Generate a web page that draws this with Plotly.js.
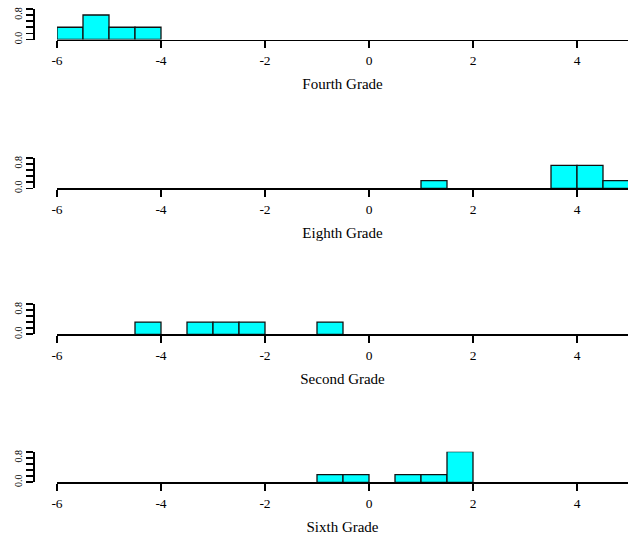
<!DOCTYPE html>
<html><head><meta charset="utf-8">
<script src="https://cdn.plot.ly/plotly-3.0.1.min.js"></script>
<style>html,body{margin:0;padding:0;background:#fff}#chart{width:628px;height:537px}</style>
</head><body><div id="chart"></div>
<script>
// ---- data ----
const panelTitles = ['Fourth Grade', 'Eighth Grade', 'Second Grade', 'Sixth Grade'];
const fourthBinStarts = [-6, -5.5, -5, -4.5];
const fourthCounts    = [1, 2, 1, 1];
const eighthBinStarts = [1, 3.5, 4, 4.5];
const eighthCounts    = [1, 3, 3, 1];
const secondBinStarts = [-4.5, -3.5, -3, -2.5, -1];
const secondCounts    = [1, 1, 1, 1, 1];
const sixthBinStarts  = [-1, -0.5, 0.5, 1, 1.5];
const sixthCounts     = [1, 1, 1, 1, 4];
const binWidth = 0.5;
const xTickVals = [-6, -4, -2, 0, 2, 4];
const xTickText = ['-6', '-4', '-2', '0', '2', '4'];
const yTickVals = [0, 0.2, 0.4, 0.6, 0.8, 1.0];
const yTickText = ['0.0', '', '', '', '0.8', ''];

const panels = [
  [fourthBinStarts, fourthCounts],
  [eighthBinStarts, eighthCounts],
  [secondBinStarts, secondCounts],
  [sixthBinStarts, sixthCounts]
];

// ---- layout geometry (pixels) ----
const W = 628, H = 537;
const baselines = [39.5, 188.3, 334.3, 482.3];
const panelH = 30.6;
const xLeftPx = 57, yAxisPx = 33;
const serif = 'Liberation Serif, Times New Roman, serif';

const traces = [];
const layout = {
  width: W, height: H,
  margin: {l: 0, r: 0, t: 0, b: 0},
  paper_bgcolor: '#fff', plot_bgcolor: 'rgba(0,0,0,0)',
  showlegend: false,
  font: {family: serif, color: '#000'}
};

panels.forEach(([starts, counts], i) => {
  const n = counts.reduce((a, b) => a + b, 0);
  const sfx = i === 0 ? '' : String(i + 1);
  traces.push({
    type: 'bar',
    x: starts.map(s => s + binWidth / 2),
    y: counts.map(c => c / (n * binWidth)),
    width: starts.map(() => binWidth),
    marker: {color: '#00FFFF', line: {color: '#111', width: 1.3}},
    xaxis: 'x' + sfx, yaxis: 'y' + sfx,
    hoverinfo: 'x+y'
  });
  const b = baselines[i];
  layout['xaxis' + sfx] = {
    domain: [xLeftPx / W, 1],
    range: [-6, -6 + (W - xLeftPx) / 52],
    anchor: 'y' + sfx,
    showline: true, linecolor: '#000', linewidth: 1.6,
    ticks: 'outside', ticklen: 7, tickwidth: 1.6, tickcolor: '#000',
    tickvals: xTickVals, ticktext: xTickText,
    tickfont: {family: serif, size: 13.5, color: '#000'},
    ticklabelstandoff: 1,
    showgrid: false, zeroline: false, fixedrange: true,
    title: {text: panelTitles[i], font: {family: serif, size: 15, color: '#000'}, standoff: 11}
  };
  layout['yaxis' + sfx] = {
    domain: [1 - b / H, 1 - (b - panelH) / H],
    range: [0, 1],
    anchor: 'free', position: yAxisPx / W,
    showline: true, linecolor: '#000', linewidth: 1.6,
    ticks: 'outside', ticklen: 7, tickwidth: 1.6, tickcolor: '#000',
    tickvals: yTickVals, ticktext: yTickText, tickangle: -90,
    tickfont: {family: serif, size: 10, color: '#000'},
    showgrid: false, zeroline: false, fixedrange: true
  };
});

Plotly.newPlot('chart', traces, layout, {displayModeBar: false, staticPlot: true});
</script>
</body></html>
